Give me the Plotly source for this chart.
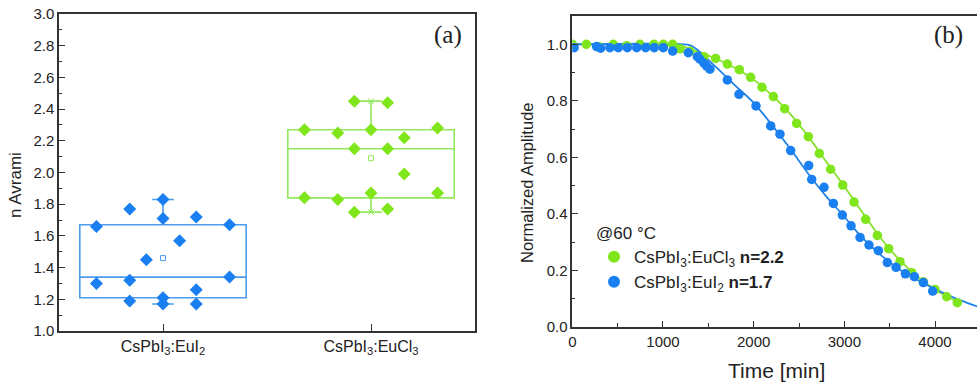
import plotly.graph_objects as go

# ---------------- Panel (a) data ----------------
categories = ["CsPbI<sub>3</sub>:EuI<sub>2</sub>", "CsPbI<sub>3</sub>:EuCl<sub>3</sub>"]
box_q1 = [1.21, 1.84]
box_median = [1.34, 2.15]
box_q3 = [1.67, 2.27]
box_low = [1.17, 1.75]
box_high = [1.83, 2.45]
box_mean = [1.46, 2.09]

# individual n values and their column index within each box
eui2_n = [1.66, 1.30, 1.77, 1.32, 1.19, 1.45, 1.83, 1.71, 1.21, 1.17, 1.57, 1.72, 1.26, 1.17, 1.67, 1.34]
eui2_col = [-4, -4, -2, -2, -2, -1, 0, 0, 0, 0, 1, 2, 2, 2, 4, 4]
eucl3_n = [2.27, 1.84, 2.25, 1.83, 2.45, 2.15, 1.75, 2.27, 1.87, 2.44, 2.15, 1.77, 2.22, 1.99, 2.28, 1.87]
eucl3_col = [-4, -4, -2, -2, -1, -1, -1, 0, 0, 1, 1, 1, 2, 2, 4, 4]

# ---------------- Panel (b) data ----------------
t_eucl3 = [0, 155, 300, 452, 600, 746, 900, 1004, 1107, 1188, 1298, 1452, 1581, 1710, 1842, 1967, 2092,
           2217, 2342, 2474, 2603, 2724, 2849, 2982, 3107, 3235, 3364, 3489, 3614, 3743, 3871, 4000, 4129, 4246]
y_eucl3 = [1.0, 1.0, 0.99, 1.0, 0.995, 1.0, 1.0, 1.0, 1.0, 0.984, 0.975, 0.956, 0.95, 0.93, 0.91, 0.883, 0.848,
           0.815, 0.772, 0.72, 0.673, 0.614, 0.558, 0.502, 0.442, 0.381, 0.324, 0.277, 0.231, 0.192, 0.16, 0.133, 0.107, 0.086]
t_eui2 = [20, 268, 312, 415, 507, 607, 710, 809, 904, 1004, 1107, 1279, 1379, 1408, 1452, 1482, 1518, 1710,
          1838, 2026, 2188, 2290, 2408, 2607, 2640, 2776, 2879, 2978, 3074, 3173, 3272, 3375, 3474, 3570, 3673,
          3772, 3871, 3974]
y_eui2 = [0.988, 0.992, 0.986, 0.988, 0.988, 0.988, 0.988, 0.988, 0.988, 0.988, 0.976, 0.97, 0.956, 0.947,
          0.933, 0.923, 0.912, 0.874, 0.823, 0.782, 0.711, 0.682, 0.624, 0.571, 0.522, 0.494, 0.437, 0.396,
          0.358, 0.317, 0.29, 0.27, 0.228, 0.211, 0.188, 0.178, 0.157, 0.127]

fit_t_eucl3 = [0, 1100, 1200, 1300, 1400, 1500, 1600, 1800, 2000, 2200, 2400, 2600, 2800, 3000, 3200, 3400,
               3600, 3800, 4000, 4150, 4280]
fit_y_eucl3 = [1.0, 0.998, 0.993, 0.984, 0.972, 0.96, 0.947, 0.915, 0.875, 0.82, 0.755, 0.675, 0.585, 0.497,
               0.405, 0.315, 0.24, 0.18, 0.133, 0.105, 0.083]
fit_t_eui2 = [0, 1200, 1300, 1400, 1500, 1600, 1800, 2000, 2200, 2400, 2600, 2800, 3000, 3200, 3400, 3600,
              3800, 4000, 4200, 4470]
fit_y_eui2 = [1.0, 1.0, 0.996, 0.975, 0.945, 0.915, 0.853, 0.793, 0.715, 0.632, 0.543, 0.462, 0.39, 0.315,
              0.255, 0.205, 0.167, 0.134, 0.105, 0.072]

# ---------------- styles ----------------
BLUE = "#1a7ff0"
BLUE_BOX = "#4d9bec"
GREEN = "#80e61c"
GREEN_BOX = "#93e85e"
BLUE_LINE = "#2283e6"
GREEN_LINE = "#86e22e"
AXC = "#333333"
TXT = "#222222"
FONT = "Liberation Sans"
SERIF = "Liberation Serif"
COL_STEP = 0.08

fig = go.Figure()

box_colors = [(BLUE, BLUE_BOX), (GREEN, GREEN_BOX)]
point_sets = [(eui2_n, eui2_col), (eucl3_n, eucl3_col)]
for i in range(len(categories)):
    pc, bc = box_colors[i]
    fig.add_trace(go.Box(
        x=[i], q1=[box_q1[i]], median=[box_median[i]], q3=[box_q3[i]],
        lowerfence=[box_low[i]], upperfence=[box_high[i]],
        width=0.8, whiskerwidth=0.13, line=dict(color=bc, width=1.6),
        fillcolor="rgba(0,0,0,0)", boxpoints=False, showlegend=False,
        xaxis="x", yaxis="y", hoverinfo="skip"))
    fig.add_trace(go.Scatter(
        x=[i, i], y=[box_low[i], box_high[i]], mode="markers",
        marker=dict(symbol="x-thin-open", size=6, color=bc, line=dict(color=bc, width=1)),
        showlegend=False, xaxis="x", yaxis="y"))
    vals, cols = point_sets[i]
    fig.add_trace(go.Scatter(
        x=[i + c * COL_STEP for c in cols], y=vals, mode="markers",
        marker=dict(symbol="diamond", size=10, color=pc),
        showlegend=False, xaxis="x", yaxis="y"))
    fig.add_trace(go.Scatter(
        x=[i], y=[box_mean[i]], mode="markers",
        marker=dict(symbol="square-open", size=5, color=bc, line=dict(color=bc, width=1)),
        showlegend=False, xaxis="x", yaxis="y"))

# panel b
fig.add_trace(go.Scatter(x=fit_t_eucl3, y=fit_y_eucl3, mode="lines", line=dict(color=GREEN_LINE, width=1.8, shape="spline"),
                         showlegend=False, xaxis="x2", yaxis="y2"))
fig.add_trace(go.Scatter(x=fit_t_eui2, y=fit_y_eui2, mode="lines", line=dict(color=BLUE_LINE, width=1.8, shape="spline"),
                         showlegend=False, xaxis="x2", yaxis="y2"))
fig.add_trace(go.Scatter(x=t_eucl3, y=y_eucl3, mode="markers", marker=dict(size=9.5, color=GREEN),
                         name="CsPbI<sub>3</sub>:EuCl<sub>3</sub> <b>n=2.2</b>", xaxis="x2", yaxis="y2"))
fig.add_trace(go.Scatter(x=t_eui2, y=y_eui2, mode="markers", marker=dict(size=9.5, color=BLUE),
                         name="CsPbI<sub>3</sub>:EuI<sub>2</sub> <b>n=1.7</b>", xaxis="x2", yaxis="y2"))

W, H = 977, 383
common_ax = dict(showline=True, linecolor=AXC, linewidth=1.5, ticks="inside", tickcolor=AXC,
                 showgrid=False, zeroline=False, automargin=False,
                 tickfont=dict(family=FONT, size=15, color=TXT))


def ann(text, x, y, size, family=FONT, angle=0):
    return dict(text=text, x=x / W, y=(H - y) / H, xref="paper", yref="paper", textangle=angle,
                xanchor="center", yanchor="middle", showarrow=False,
                font=dict(family=family, size=size, color=TXT))


fig.update_layout(
    width=W, height=H, margin=dict(l=0, r=0, t=0, b=0),
    plot_bgcolor="white", paper_bgcolor="white",
    font=dict(family=FONT, color=TXT),
    xaxis=dict(common_ax, domain=[59 / W, 475 / W], range=[-0.5, 1.5], tickvals=[0, 1],
               ticktext=categories, ticklen=7, mirror=True, anchor="y",
               tickfont=dict(family=FONT, size=16, color=TXT)),
    yaxis=dict(common_ax, domain=[(H - 331) / H, (H - 14) / H], range=[1.0, 3.0], dtick=0.2,
               tickformat=".1f", ticklen=6, mirror=True, anchor="x",
               minor=dict(ticks="inside", dtick=0.1, ticklen=3, tickcolor=AXC)),
    xaxis2=dict(common_ax, domain=[572.3 / W, 1.0], range=[0, 4463], dtick=1000, ticklen=6,
                mirror=True, anchor="y2",
                minor=dict(ticks="inside", dtick=500, ticklen=4, tickcolor=AXC)),
    yaxis2=dict(common_ax, domain=[(H - 327) / H, (H - 16) / H], range=[0, 1.1], tickvals=[0, 0.2, 0.4, 0.6, 0.8, 1.0],
                tickformat=".1f", ticklen=6, mirror=False, anchor="x2",
                minor=dict(ticks="inside", tickvals=[0.1, 0.3, 0.5, 0.7, 0.9], ticklen=3, tickcolor=AXC)),
    legend=dict(x=594 / W, y=(H - 217) / H, xanchor="left", yanchor="top",
                bgcolor="rgba(0,0,0,0)", font=dict(family=FONT, size=17, color=TXT),
                title=dict(text="@60 °C", font=dict(family=FONT, size=17, color=TXT)),
                tracegroupgap=0, itemsizing="constant"),
    annotations=[
        ann("n Avrami", 15, 185, 17, angle=-90),
        ann("Normalized Amplitude", 527, 183, 16.5, angle=-90),
        ann("Time [min]", 776, 370, 21),
        ann("(a)", 448, 35, 25, family=SERIF),
        ann("(b)", 948, 35, 25, family=SERIF),
    ],
)

fig.write_html("out.html")
